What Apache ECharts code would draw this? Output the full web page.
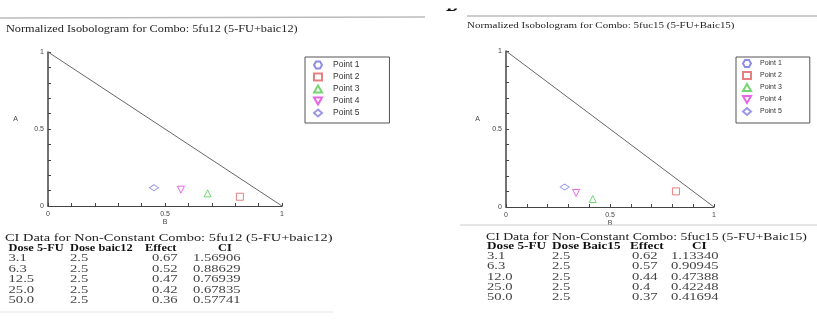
<!DOCTYPE html>
<html>
<head>
<meta charset="utf-8">
<script src="https://cdn.jsdelivr.net/npm/echarts@6/dist/echarts.min.js"></script>
<style>
  html, body { margin: 0; padding: 0; background: #fff; }
  #main { width: 817px; height: 324px; }
</style>
</head>
<body>
<div id="main"></div>
<script>
// 等效线图数据，每个点为 [B, A]；Point 1 超出坐标范围，不显示
const pointNames = ['Point 1', 'Point 2', 'Point 3', 'Point 4', 'Point 5'];
const leftPoints = [null, [0.82, 0.06], [0.682, 0.082], [0.568, 0.106], [0.453, 0.119]];
const rightPoints = [null, [0.817, 0.10], [0.417, 0.051], [0.337, 0.09], [0.282, 0.128]];
const additiveLine = [[0, 1], [1, 0]];
const tickLabels = ['0', '0.5', '1'];

// CI 数据表
const leftTitle = 'Normalized Isobologram for Combo: 5fu12 (5-FU+baic12)';
const rightTitle = 'Normalized Isobologram for Combo: 5fuc15 (5-FU+Baic15)';
const leftTableTitle = 'CI Data for Non-Constant Combo: 5fu12 (5-FU+baic12)';
const rightTableTitle = 'CI Data for Non-Constant Combo: 5fuc15 (5-FU+Baic15)';
const leftHeader = ['Dose 5-FU', 'Dose baic12', 'Effect', 'CI'];
const rightHeader = ['Dose 5-FU', 'Dose Baic15', 'Effect', 'CI'];
const leftDoseFU = ['3.1', '6.3', '12.5', '25.0', '50.0'];
const leftDoseB = ['2.5', '2.5', '2.5', '2.5', '2.5'];
const leftEffect = ['0.67', '0.52', '0.47', '0.42', '0.36'];
const leftCI = ['1.56906', '0.88629', '0.76939', '0.67835', '0.57741'];
const rightDoseFU = ['3.1', '6.3', '12.0', '25.0', '50.0'];
const rightDoseB = ['2.5', '2.5', '2.5', '2.5', '2.5'];
const rightEffect = ['0.62', '0.57', '0.44', '0.4', '0.37'];
const rightCI = ['1.13340', '0.90945', '0.47388', '0.42248', '0.41694'];

const markerColors = ['#7070e0', '#e06060', '#50cc50', '#e040e0', '#8080e0'];
const markerSymbols = [
  'path://M2,0L6,0L8,3.5L6,7L2,7L0,3.5Z', 'rect', 'triangle',
  'path://M0,0L8,0L4,7Z', 'diamond'
];
const markerSizes = [7, 7, 7, 7, [9, 6]];

const SERIF = '"Liberation Serif", "Times New Roman", serif';
const SANS = '"Liberation Sans", Arial, sans-serif';

const myChart = echarts.init(document.getElementById('main'));

function tickFmt(v) {
  return v === 0 ? tickLabels[0] : v === 1 ? tickLabels[2] : tickLabels[1];
}

function makeX(idx, gap) {
  return {
    gridIndex: idx, type: 'value', min: 0, max: 1, interval: 0.5,
    name: 'B', nameLocation: 'middle', nameGap: gap,
    nameTextStyle: { fontSize: 7, color: '#444', fontFamily: SANS },
    axisLine: { onZero: false, lineStyle: { color: '#444', width: 1.2 } },
    axisTick: { inside: true, length: 3, lineStyle: { color: '#444' } },
    minorTick: { show: true, splitNumber: 5, length: 3, lineStyle: { color: '#444' } },
    splitLine: { show: false },
    axisLabel: { fontSize: 7, color: '#444', fontFamily: SANS, margin: 5, formatter: tickFmt }
  };
}

function makeY(idx, gap) {
  return {
    gridIndex: idx, type: 'value', min: 0, max: 1, interval: 0.5,
    name: 'A', nameLocation: 'middle', nameGap: gap, nameRotate: 0,
    nameTextStyle: { fontSize: 7, color: '#444', fontFamily: SANS, verticalAlign: 'bottom', padding: [0, 0, 6, 0] },
    axisLine: { onZero: false, lineStyle: { color: '#444', width: 1.5 } },
    axisTick: { inside: true, length: 3, lineStyle: { color: '#444' } },
    minorTick: { show: true, splitNumber: 5, length: 3, lineStyle: { color: '#444' } },
    splitLine: { show: false },
    axisLabel: { fontSize: 7, color: '#444', fontFamily: SANS, margin: 4, formatter: tickFmt }
  };
}

function makeSeries(points, idx) {
  const list = [{
    type: 'line', xAxisIndex: idx, yAxisIndex: idx, data: additiveLine,
    showSymbol: false, silent: true,
    lineStyle: { color: '#666', width: 1 }
  }];
  points.forEach((p, i) => {
    list.push({
      name: pointNames[i], type: 'scatter', xAxisIndex: idx, yAxisIndex: idx,
      data: p ? [p] : [],
      symbol: markerSymbols[i], symbolSize: markerSizes[i],
      itemStyle: { color: 'transparent', borderColor: markerColors[i], borderWidth: 1 }
    });
  });
  return list;
}

function makeLegend(left, top, padding, fontSize, textGap) {
  return {
    data: pointNames, orient: 'vertical', left: left, top: top,
    itemWidth: 8, itemHeight: 7, itemGap: 3, padding: padding,
    symbolKeepAspect: true,
    borderColor: '#555', borderWidth: 1, selectedMode: false,
    textStyle: { fontSize: fontSize, color: '#333', fontFamily: SANS, padding: [0, 0, 0, textGap] }
  };
}

function txt(x, y, text, opt) {
  opt = opt || {};
  return {
    type: 'text', x: x, y: y, scaleX: opt.scale || 1.33, z: 10,
    style: {
      text: text, fontSize: opt.size || 11, fontFamily: SERIF,
      fontWeight: opt.bold ? 'bold' : 'normal',
      fill: opt.color || (opt.bold ? '#111' : '#444'), verticalAlign: 'middle', align: 'left'
    }
  };
}

function makeTable(title, titleScale, headScale, header, cols, titleX, titleY, headX, valX, rowY, step) {
  const items = [txt(titleX, titleY, title, { color: '#222', scale: titleScale })];
  header.forEach((h, j) => items.push(txt(headX[j], rowY - step, h, { bold: true, scale: headScale })));
  cols.forEach((col, j) => {
    col.forEach((v, i) => items.push(txt(valX[j], rowY + i * step, v)));
  });
  return items;
}

const graphics = [
  { type: 'line', shape: { x1: 0, y1: 18, x2: 425, y2: 17 }, style: { stroke: '#bbb', lineWidth: 1.5 } },
  { type: 'line', shape: { x1: 467, y1: 16, x2: 817, y2: 16 }, style: { stroke: '#bbb', lineWidth: 1.5 } },
  { type: 'text', x: 446, y: 15, style: { text: 'D', fontSize: 18, fontWeight: 'bold', fontFamily: SERIF, fill: '#111', verticalAlign: 'bottom' } },
  { type: 'rect', shape: { x: 440, y: 0, width: 24, height: 8.5 }, style: { fill: '#fff' }, z: 20 },
  txt(6, 29, leftTitle, { size: 9.6, color: '#222', scale: 1.28 }),
  txt(467, 26, rightTitle, { size: 9, color: '#222', scale: 1.22 }),
  { type: 'line', shape: { x1: 460, y1: 225, x2: 817, y2: 225 }, style: { stroke: '#ccc', lineWidth: 1.2 }, z: 30 },
  { type: 'line', shape: { x1: 0, y1: 312, x2: 333, y2: 312 }, style: { stroke: '#e4e4e4', lineWidth: 1 } }
].concat(
  makeTable(leftTableTitle, 1.31, 1.12, leftHeader, [leftDoseFU, leftDoseB, leftEffect, leftCI],
    5, 238.3, [8.5, 70, 145, 218], [8.5, 70, 152, 193], 258.6, 10.35),
  makeTable(rightTableTitle, 1.25, 1.2, rightHeader, [rightDoseFU, rightDoseB, rightEffect, rightCI],
    486, 236.7, [487, 552, 630, 692], [487, 552, 632, 671], 256.3, 10.3)
);

const option = {
  animation: false,
  grid: [
    { left: 48, top: 52, width: 234, height: 154 },
    { left: 506, top: 51, width: 208, height: 156 }
  ],
  xAxis: [makeX(0, 12), makeX(1, 12)],
  yAxis: [makeY(0, 30), makeY(1, 26)],
  legend: [
    makeLegend(305, 57, [3.5, 30, 5.5, 8], 8.5, 6),
    makeLegend(736, 57, [2, 28, 7, 6], 7, 4)
  ],
  series: makeSeries(leftPoints, 0).concat(makeSeries(rightPoints, 1)),
  graphic: graphics
};
myChart.setOption(option);

window.addEventListener('resize', () => myChart.resize());
</script>
</body>
</html>
